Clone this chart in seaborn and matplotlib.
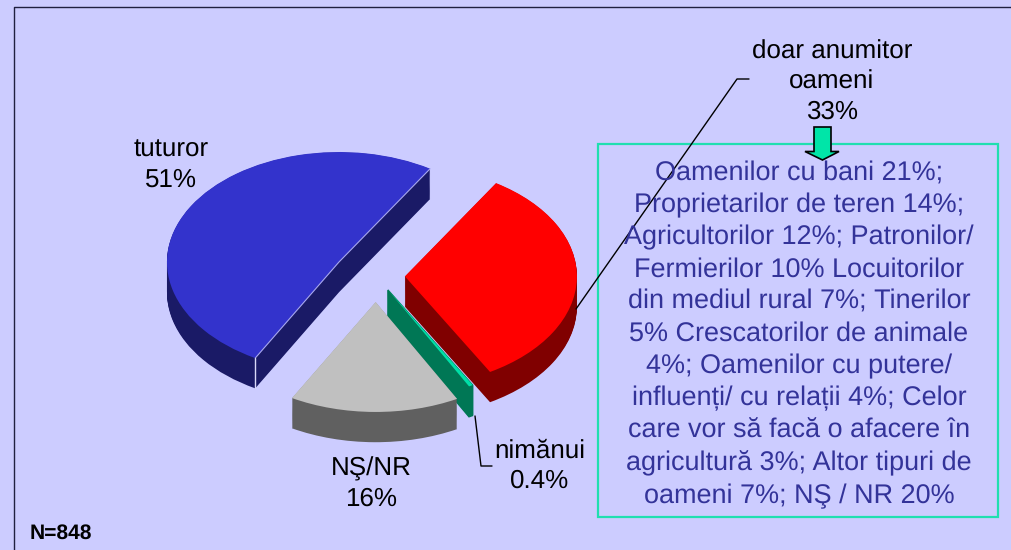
import numpy as np
import matplotlib.pyplot as plt
from matplotlib.patches import Polygon, Rectangle
import seaborn as sns

# data
categories = ["tuturor", "NŞ/NR", "nimănui", "doar anumitor oameni"]
values = [51, 16, 0.4, 33]
explode = [0.25, 0.236, 0.14, 0.168]
top_colors = ["#3333CC", "#C0C0C0", "#00E0A8", "#FF0000"]
side_colors = ["#1A1A66", "#606060", "#007755", "#800000"]
details = [
    "Oamenilor cu bani 21%;",
    "Proprietarilor de teren 14%;",
    "Agricultorilor 12%; Patronilor/",
    "Fermierilor 10% Locuitorilor",
    "din mediul rural 7%; Tinerilor",
    "5% Crescatorilor de animale",
    "4%; Oamenilor cu putere/",
    "influenți/ cu relații 4%; Celor",
    "care vor să facă o afacere în",
    "agricultură 3%; Altor tipuri de",
    "oameni 7%; NŞ / NR 20%",
]
sample_label = "N=848"

BG = "#CCCCFF"
W, H = 1012, 550
depth = 0.275
start = 58

sns.set_theme(style="white", rc={"figure.facecolor": BG, "savefig.facecolor": BG,
                                 "text.hinting": "none", "text.hinting_factor": 1})
plt.rcParams["font.family"] = ["Liberation Sans", "DejaVu Sans"]

fig = plt.figure(figsize=(W / 100, H / 100), dpi=100)

# pie axes: radius 1 = 172px wide, 110px high, centre at (376, 276)
ax = fig.add_axes([(376 - 223.6) / W, 1 - 496 / H, 447.2 / W, 396 / H])
ax.patch.set_alpha(0)

# stacked darker copies make the side walls
for d in np.linspace(depth, 0.004, 32):
    side, _ = ax.pie(values, explode=explode, colors=sns.color_palette(side_colors),
                     startangle=start, center=(0, -d), wedgeprops={"linewidth": 0})
    # the green slice is too thin to show up without an edge
    side[2].set(edgecolor=side_colors[2], linewidth=1.2)
wedges, _ = ax.pie(values, explode=explode, colors=sns.color_palette(top_colors),
                   startangle=start, wedgeprops={"linewidth": 0})

# pale highlight along the cut edge of the blue slice
blue = wedges[0]
cx, cy = blue.center
a1, a2 = np.radians([blue.theta1, blue.theta2])
ax.plot([cx + np.cos(a1), cx, cx + np.cos(a2)], [cy + np.sin(a1), cy, cy + np.sin(a2)],
        color="#A8A8F0", lw=0.8)
ax.plot([cx + np.cos(a2)] * 2, [cy + np.sin(a2), cy + np.sin(a2) - depth],
        color="#D8D8F8", lw=1)

ax.set_aspect("auto")
ax.set_xlim(-1.3, 1.3)
ax.set_ylim(-2, 1.6)
ax.axis("off")

# overlay in pixel coordinates for frame, labels and text box
ov = fig.add_axes([0, 0, 1, 1])
ov.set_xlim(0, W)
ov.set_ylim(H, 0)
ov.axis("off")
ov.patch.set_alpha(0)

ov.plot([14, 14, W], [H, 7, 7], color="#202040", lw=1)

ov.plot([576, 737, 749], [309, 79, 79], color="black", lw=1)
ov.plot([475, 481, 492], [416, 466, 466], color="black", lw=1)

label_size = 19
ov.text(171, 165, "tuturor\n51%", ha="center", va="center", fontsize=label_size,
        linespacing=1.31, color="black")
ov.text(371, 484, "NŞ/NR\n16%", ha="center", va="center", fontsize=label_size,
        linespacing=1.31, color="black")
ov.text(540, 466, "nimănui\n0.4%", ha="center", va="center", fontsize=label_size,
        linespacing=1.31, color="black")
ov.text(832, 82, "doar anumitor\noameni\n33%", ha="center", va="center", fontsize=label_size,
        linespacing=1.31, color="black")

ov.add_patch(Rectangle((598, 143.5), 400, 373.5, fill=False, edgecolor="#1FDFB0", lw=1.6))
ov.text(799, 334.5, "\n".join(details), ha="center", va="center", fontsize=19.3,
        linespacing=1.36, color="#333399")

ov.add_patch(Polygon([(814, 127), (831, 127), (831, 151.5), (839, 151.5), (822.5, 160),
                      (805, 151.5), (814, 151.5)],
                     closed=True, facecolor="#00E5A8", edgecolor="black", lw=1.2))

ov.text(30, 533, sample_label, ha="left", va="center", fontsize=15.2, fontweight="bold",
        color="black")

fig.savefig("out.png", dpi=100)
